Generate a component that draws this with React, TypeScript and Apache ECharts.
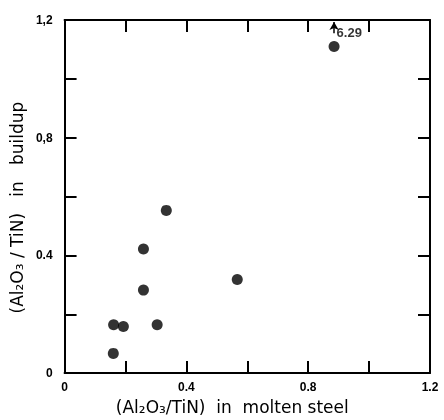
import React, { useEffect, useRef } from "react";
import * as echarts from "echarts";

const xValues = [0.885, 0.334, 0.259, 0.567, 0.259, 0.161, 0.193, 0.304, 0.160];
const yValues = [1.11, 0.553, 0.422, 0.318, 0.282, 0.164, 0.158, 0.164, 0.067];
const xTickLabels: Record<string, string> = { "0": "0", "0.4": "0.4", "0.8": "0.8", "1.2": "1.2" };
const yTickLabels: Record<string, string> = { "0": "0", "0.4": "0.4", "0.8": "0,8", "1.2": "1,2" };
const offscaleX = 0.885;
const offscaleArrow = [1.155, 1.193];
const offscaleLabel = "6.29";

const fmt = (v: number) => String(Math.round(v * 10) / 10);

export default function App() {
  const ref = useRef<HTMLDivElement>(null);
  useEffect(() => {
    const chart = echarts.init(ref.current!, null, { renderer: "svg" });
    const axisCommon = () => ({
      min: 0,
      max: 1.2,
      interval: 0.2,
      splitLine: { show: false },
      axisLine: { show: true, onZero: false, lineStyle: { color: "#000", width: 2 } },
      axisTick: { show: true, inside: true, length: 12, lineStyle: { color: "#000", width: 2 } },
    });
    const tickFont = { color: "#000", fontWeight: "bold" as const, fontSize: 12, fontFamily: "Liberation Sans" };
    const nameFont = { color: "#000", fontSize: 17, fontFamily: "DejaVu Sans" };
    chart.setOption({
      animation: false,
      grid: { left: 64, right: 14, top: 20, bottom: 42, containLabel: false },
      xAxis: [
        {
          ...axisCommon(),
          type: "value",
          position: "bottom",
          name: "(Al₂O₃/TiN)  in  molten steel",
          nameLocation: "middle",
          nameGap: 21,
          nameTextStyle: { ...nameFont, padding: [0, 30, 0, 0] },
          axisLabel: { ...tickFont, margin: 8, formatter: (v: number) => xTickLabels[fmt(v)] ?? "" },
        },
        {
          ...axisCommon(),
          type: "value",
          position: "top",
          axisLabel: { show: false },
        },
      ],
      yAxis: [
        {
          ...axisCommon(),
          type: "value",
          position: "left",
          name: "(Al₂O₃ / TiN)   in   buildup",
          nameLocation: "middle",
          nameRotate: 90,
          nameGap: 35,
          nameTextStyle: { ...nameFont, padding: [0, 22, 0, 0] },
          axisLabel: { ...tickFont, margin: 12, formatter: (v: number) => yTickLabels[fmt(v)] ?? "" },
        },
        {
          ...axisCommon(),
          type: "value",
          position: "right",
          axisLabel: { show: false },
        },
      ],
      series: [
        {
          type: "scatter",
          symbol: "circle",
          symbolSize: 11,
          itemStyle: { color: "#000" },
          data: xValues.map((x, i) => [x, yValues[i]]),
          markLine: {
            silent: true,
            symbol: ["none", "arrow"],
            symbolSize: [7, 8],
            label: { show: false },
            lineStyle: { color: "#000", width: 1.5, type: "solid" },
            data: [[{ coord: [offscaleX, offscaleArrow[0]] }, { coord: [offscaleX, offscaleArrow[1]] }]],
          },
        },
        {
          type: "scatter",
          symbol: "circle",
          symbolSize: 1,
          itemStyle: { color: "rgba(0,0,0,0)" },
          data: [[offscaleX, 1.157]],
          label: { show: true, position: "right", distance: 2, formatter: offscaleLabel, ...tickFont, fontSize: 13 },
        },
      ],
    });
    return () => chart.dispose();
  }, []);
  return <div ref={ref} style={{ position: "fixed", left: 0, top: 0, width: 444, height: 420 }} />;
}
